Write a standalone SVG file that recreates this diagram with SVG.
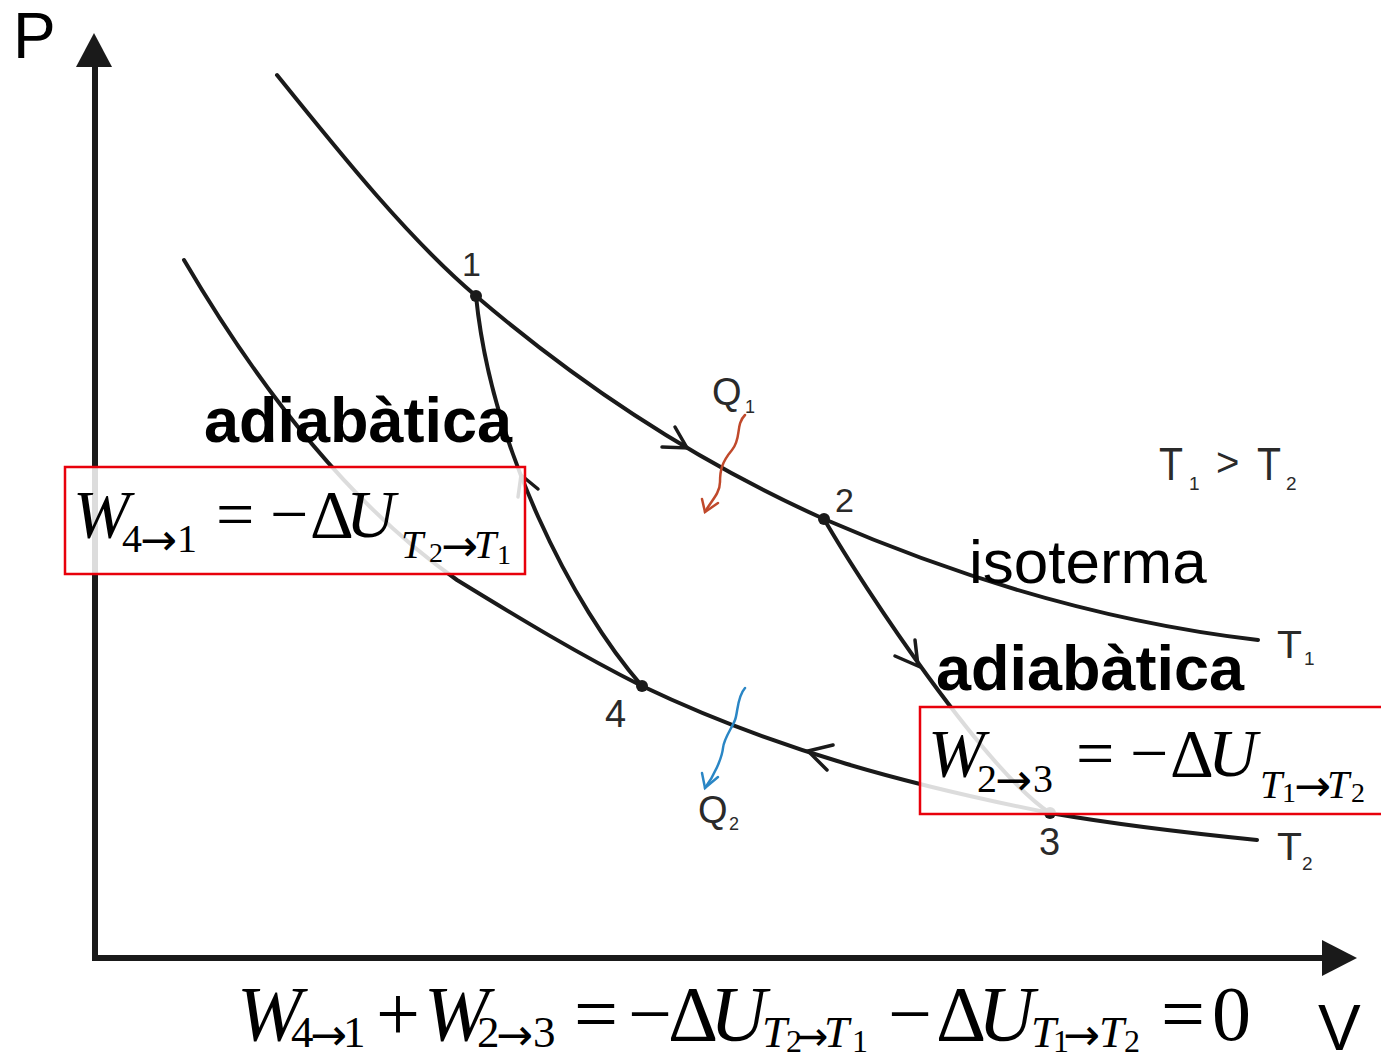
<svg xmlns="http://www.w3.org/2000/svg" width="1381" height="1056" viewBox="0 0 1381 1056">
<style>
.curve{fill:none;stroke:#1a1a1a;stroke-width:4;stroke-linecap:round}
.arr{fill:none;stroke:#1a1a1a;stroke-width:3.5;stroke-linecap:round;stroke-linejoin:miter}
.axis{stroke:#1a1a1a;stroke-width:6}
.lbl{font-family:"Liberation Sans",Arial,sans-serif;fill:#2a2a2a}
.big{font-family:"Liberation Sans",Arial,sans-serif;fill:#000}
.m{font-family:"Liberation Serif","Times New Roman",serif;fill:#000}
.ar{font-family:"DejaVu Sans",sans-serif;fill:#000}
.i{font-style:italic}
.box{fill:#fff;fill-opacity:0.85;stroke:#e8000b;stroke-width:2.5}
.dot{fill:#1a1a1a}
</style>
<rect width="1381" height="1056" fill="#fff"/>
<g id="axes">
<line class="axis" x1="95" y1="961" x2="95" y2="62"/>
<polygon points="94,33 76,67 112,67" fill="#1a1a1a"/>
<line class="axis" x1="92" y1="958" x2="1328" y2="958"/>
<polygon points="1357,958 1322,940 1322,976" fill="#1a1a1a"/>
<text class="big" x="13" y="58" font-size="64">P</text>
<text class="big" x="1318" y="1050" font-size="64">V</text>
</g>
<g id="connectors">
<path id="isoT1" class="curve" d="M277,75 C343,157 410,240 476,296 C592,395 708,467 824,519 C969,582 1113,623 1258,640"/>
<path id="isoT2" class="curve" d="M184,260 C275,415 366,516 457,580 C519,618 580,655 642,686 C778,751 914,786 1050,813 C1119,825 1188,833 1257,840"/>
<path id="adia41" class="curve" d="M476,296 C491,446 572,606 642,686"/>
<path id="adia23" class="curve" d="M824,519 C865,590 985,770 1050,813"/>
<polyline class="arr" points="662,447 687,448 675,427"/>
<polyline class="arr" points="895,656 918,666 915,640"/>
<polyline class="arr" points="833,745 808,751 827,770"/>
<polyline class="arr" points="538,489 521,475 518,497"/>
<g id="Q1arrow" fill="none" stroke="#c0492b" stroke-width="2.5" stroke-linecap="round">
<path d="M745,415 C735,425 742,438 732,450 S720,470 720,482 S710,502 705,512"/>
<polyline points="702,499 705,512 718,503"/>
</g>
<g id="Q2arrow" fill="none" stroke="#2a86c5" stroke-width="2.5" stroke-linecap="round">
<path d="M745,688 C737,697 738,712 735,720 S724,738 723,748 S714,776 705,788"/>
<polyline points="702,773 705,788 718,777"/>
</g>
</g>
<g id="node1"><circle class="dot" cx="476" cy="296" r="6"/><text class="lbl" x="462" y="276" font-size="34">1</text></g>
<g id="node2"><circle class="dot" cx="824" cy="519" r="6"/><text class="lbl" x="835" y="512" font-size="34">2</text></g>
<g id="node3"><circle class="dot" cx="1050" cy="813" r="6"/><text class="lbl" x="1039" y="855" font-size="38">3</text></g>
<g id="node4"><circle class="dot" cx="642" cy="686" r="6"/><text class="lbl" x="605" y="727" font-size="38">4</text></g>
<g id="labels">
<text class="lbl" x="712" y="405" font-size="38" fill="#4a4a4a">Q</text>
<text class="lbl" x="745" y="413" font-size="18" fill="#4a4a4a">1</text>
<text class="lbl" x="698" y="823" font-size="38" fill="#4a4a4a">Q</text>
<text class="lbl" x="729" y="830" font-size="18" fill="#4a4a4a">2</text>
<text class="lbl" x="1159" y="480" font-size="46" textLength="24" lengthAdjust="spacingAndGlyphs">T</text>
<text class="lbl" x="1189" y="490" font-size="19">1</text>
<text class="lbl" x="1216" y="476" font-size="40">&gt;</text>
<text class="lbl" x="1257" y="480" font-size="46" textLength="24" lengthAdjust="spacingAndGlyphs">T</text>
<text class="lbl" x="1286" y="490" font-size="19">2</text>
<text class="lbl" x="1277" y="658" font-size="39" textLength="25" lengthAdjust="spacingAndGlyphs">T</text>
<text class="lbl" x="1304" y="665" font-size="19">1</text>
<text class="lbl" x="1277" y="860" font-size="39" textLength="25" lengthAdjust="spacingAndGlyphs">T</text>
<text class="lbl" x="1302" y="870" font-size="19">2</text>
<text class="big" x="204" y="442" font-size="63" font-weight="bold">adiabàtica</text>
<text class="big" x="936" y="690" font-size="63" font-weight="bold">adiabàtica</text>
<text class="big" x="969" y="583" font-size="62">isoterma</text>
</g>
<g id="formula41">
<rect class="box" x="65" y="467" width="460" height="107"/>
<text class="m i" x="73" y="537" font-size="68">W</text>
<text class="m" x="122" y="552" font-size="40">4</text>
<text class="ar" x="140" y="555" font-size="44">→</text>
<text class="m" x="177" y="552" font-size="40">1</text>
<text class="m" y="537" font-size="68"><tspan x="216">=</tspan><tspan x="270">−</tspan><tspan x="310">Δ</tspan><tspan class="i" x="346">U</tspan></text>
<text class="m i" x="401" y="558" font-size="40">T</text>
<text class="m" x="429" y="562" font-size="28">2</text>
<text class="ar" x="441" y="561" font-size="44">→</text>
<text class="m i" x="474" y="558" font-size="40">T</text>
<text class="m" x="497" y="564" font-size="28">1</text>
</g>
<g id="formula23">
<rect class="box" x="920" y="707" width="470" height="107"/>
<text class="m i" x="928" y="776" font-size="68">W</text>
<text class="m" x="977" y="792" font-size="40">2</text>
<text class="ar" x="995" y="795" font-size="44">→</text>
<text class="m" x="1033" y="792" font-size="40">3</text>
<text class="m" y="776" font-size="68"><tspan x="1076">=</tspan><tspan x="1130">−</tspan><tspan x="1170">Δ</tspan><tspan class="i" x="1208">U</tspan></text>
<text class="m i" x="1260" y="798" font-size="40">T</text>
<text class="m" x="1282" y="802" font-size="28">1</text>
<text class="ar" x="1294" y="801" font-size="44">→</text>
<text class="m i" x="1327" y="798" font-size="40">T</text>
<text class="m" x="1351" y="802" font-size="28">2</text>
</g>
<g id="formulaSum">
<text class="m i" x="237" y="1040" font-size="78">W</text>
<text class="m" x="291" y="1047" font-size="45">4</text>
<text class="ar" x="310" y="1050" font-size="44">→</text>
<text class="m" x="343" y="1047" font-size="45">1</text>
<text class="m" x="376" y="1040" font-size="78">+</text>
<text class="m i" x="424" y="1040" font-size="78">W</text>
<text class="m" x="477" y="1047" font-size="45">2</text>
<text class="ar" x="496" y="1050" font-size="44">→</text>
<text class="m" x="533" y="1047" font-size="45">3</text>
<text class="m" y="1040" font-size="78"><tspan x="574">=</tspan><tspan x="628">−</tspan><tspan x="668">Δ</tspan><tspan class="i" x="710">U</tspan></text>
<text class="m i" x="762" y="1047" font-size="45">T</text>
<text class="m" x="786" y="1052" font-size="32">2</text>
<text class="ar" x="795" y="1050" font-size="40">→</text>
<text class="m i" x="824" y="1047" font-size="45">T</text>
<text class="m" x="852" y="1052" font-size="32">1</text>
<text class="m" y="1040" font-size="78"><tspan x="888">−</tspan><tspan x="936">Δ</tspan><tspan class="i" x="978">U</tspan></text>
<text class="m i" x="1031" y="1047" font-size="45">T</text>
<text class="m" x="1053" y="1052" font-size="32">1</text>
<text class="ar" x="1063" y="1050" font-size="44">→</text>
<text class="m i" x="1099" y="1047" font-size="45">T</text>
<text class="m" x="1124" y="1052" font-size="32">2</text>
<text class="m" y="1040" font-size="78"><tspan x="1161">=</tspan><tspan x="1212">0</tspan></text>
</g>
</svg>
